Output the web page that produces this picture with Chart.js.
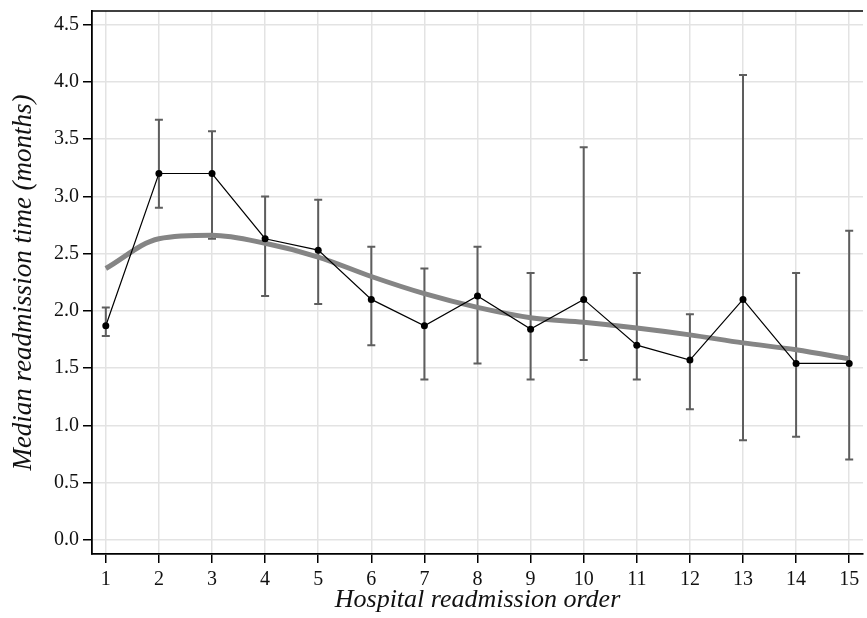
<!DOCTYPE html>
<html>
<head>
<meta charset="utf-8">
<script src="https://cdn.jsdelivr.net/npm/chart.js@4/dist/chart.umd.min.js"></script>
<style>
  html, body { margin: 0; padding: 0; background: #fff; }
  #wrap { width: 867px; height: 618px; }
</style>
</head>
<body>
<div id="wrap"><canvas id="readmitChart"></canvas></div>
<script>
// readmission order on x, median time (months) on y
const orders = [1, 2, 3, 4, 5, 6, 7, 8, 9, 10, 11, 12, 13, 14, 15];
const medianTime = [1.87, 3.2, 3.2, 2.63, 2.53, 2.1, 1.87, 2.13, 1.84, 2.1, 1.7, 1.57, 2.1, 1.54, 1.54];
const ciUpper = [2.03, 3.67, 3.57, 3.0, 2.97, 2.56, 2.37, 2.56, 2.33, 3.43, 2.33, 1.97, 4.06, 2.33, 2.70];
const ciLower = [1.78, 2.90, 2.63, 2.13, 2.06, 1.70, 1.40, 1.54, 1.40, 1.57, 1.40, 1.14, 0.87, 0.90, 0.70];
const trend = [2.37, 2.63, 2.66, 2.59, 2.47, 2.30, 2.15, 2.03, 1.94, 1.90, 1.85, 1.79, 1.72, 1.66, 1.58];
const yTicks = [0, 0.5, 1, 1.5, 2, 2.5, 3, 3.5, 4, 4.5];

const serif = 'Liberation Serif';

// error bars drawn behind the lines
const errorBars = {
  id: 'errorBars',
  beforeDatasetsDraw(chart) {
    const { ctx, scales: { x, y } } = chart;
    ctx.save();
    ctx.strokeStyle = '#5e5e5e';
    ctx.lineWidth = 2;
    orders.forEach((o, i) => {
      const px = x.getPixelForValue(o);
      const top = y.getPixelForValue(ciUpper[i]);
      const bot = y.getPixelForValue(ciLower[i]);
      ctx.beginPath();
      ctx.moveTo(px, top); ctx.lineTo(px, bot);
      ctx.moveTo(px - 4, top); ctx.lineTo(px + 4, top);
      ctx.moveTo(px - 4, bot); ctx.lineTo(px + 4, bot);
      ctx.stroke();
    });
    ctx.restore();
  }
};

// top frame line
const topFrame = {
  id: 'topFrame',
  afterDraw(chart) {
    const { ctx, chartArea } = chart;
    ctx.save();
    ctx.strokeStyle = '#000';
    ctx.lineWidth = 1.5;
    ctx.beginPath();
    ctx.moveTo(chartArea.left, chartArea.top);
    ctx.lineTo(chartArea.right, chartArea.top);
    ctx.stroke();
    ctx.restore();
  }
};

const ctx = document.getElementById('readmitChart').getContext('2d');

new Chart(ctx, {
  type: 'line',
  data: {
    datasets: [
      {
        label: 'Median',
        data: orders.map((o, i) => ({ x: o, y: medianTime[i] })),
        borderColor: '#000',
        borderWidth: 1.2,
        pointRadius: 3.5,
        pointBackgroundColor: '#000',
        pointBorderWidth: 0,
        tension: 0
      },
      {
        label: 'Trend',
        data: orders.map((o, i) => ({ x: o, y: trend[i] })),
        borderColor: '#858585',
        borderWidth: 5,
        pointRadius: 0,
        cubicInterpolationMode: 'monotone'
      }
    ]
  },
  options: {
    responsive: true,
    maintainAspectRatio: false,
    animation: false,
    layout: { padding: { top: 11, right: 0, bottom: 0, left: 0 } },
    plugins: {
      legend: { display: false },
      tooltip: { enabled: false }
    },
    scales: {
      x: {
        type: 'linear',
        min: 0.74,
        max: 15.26,
        afterBuildTicks: s => { s.ticks = orders.map(v => ({ value: v })); },
        afterFit: s => { s.height = 64; s.paddingLeft = 0; s.paddingRight = 0; },
        grid: { color: '#e3e3e3', lineWidth: 1.5, tickLength: 9, tickColor: '#000', tickWidth: 1.5 },
        border: { color: '#000', width: 1.8 },
        ticks: {
          color: '#111',
          font: { family: serif, size: 20 },
          padding: 5,
          maxRotation: 0
        },
        title: {
          display: true,
          text: 'Hospital readmission order',
          color: '#111',
          font: { family: serif, size: 26, style: 'italic' },
          padding: { top: 0, bottom: 2 }
        }
      },
      y: {
        min: -0.125,
        max: 4.62,
        afterBuildTicks: s => { s.ticks = yTicks.map(v => ({ value: v })); },
        afterFit: s => { s.width = 92; s.paddingTop = 0; s.paddingBottom = 0; },
        grid: { color: '#e3e3e3', lineWidth: 1.5, tickLength: 9, tickColor: '#000', tickWidth: 1.5 },
        border: { color: '#000', width: 1.8 },
        ticks: {
          color: '#111',
          font: { family: serif, size: 20 },
          padding: 4,
          callback: v => v.toFixed(1)
        },
        title: {
          display: true,
          text: 'Median readmission time (months)',
          color: '#111',
          font: { family: serif, size: 27, style: 'italic' },
          padding: { top: 8, bottom: 0 }
        }
      }
    }
  },
  plugins: [errorBars, topFrame]
});
</script>
</body>
</html>
